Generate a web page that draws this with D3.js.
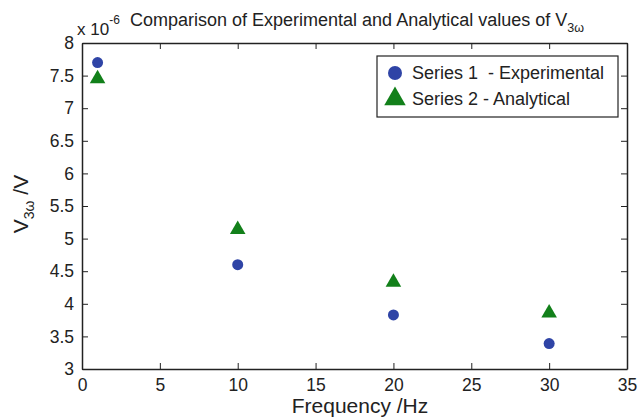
<!DOCTYPE html>
<html>
<head>
<meta charset="utf-8">
<script src="https://cdn.jsdelivr.net/npm/d3@7"></script>
<style>
  body { margin: 0; background: #fff; }
  svg { font-family: 'Liberation Sans', Arial, sans-serif; }
</style>
</head>
<body>
<div id="chart"></div>
<script>
const frequency = [1, 10, 20, 30];
const experimental = [7.7, 4.6, 3.83, 3.39];   // x 1e-6 V
const analytical = [7.45, 5.14, 4.33, 3.86];   // x 1e-6 V
const xTicks = [0, 5, 10, 15, 20, 25, 30, 35];
const yTicks = [3, 3.5, 4, 4.5, 5, 5.5, 6, 6.5, 7, 7.5, 8];
const seriesNames = ['Series 1  - Experimental', 'Series 2 - Analytical'];

const width = 638;
const height = 418;
const margin = { top: 43, right: 11, bottom: 49, left: 82 };
const innerW = width - margin.left - margin.right;
const innerH = height - margin.top - margin.bottom;

const blue = '#2f44a6';
const green = '#12801a';

const svg = d3.select('#chart').append('svg').attr('width', width).attr('height', height);
const g = svg.append('g').attr('transform', `translate(${margin.left},${margin.top})`);

const x = d3.scaleLinear().domain([0, 35]).range([0, innerW]);
const y = d3.scaleLinear().domain([3, 8]).range([innerH, 0]);

/* Axes (MATLAB style, inward ticks on all sides)
=========================================================================*/
const fmt = d3.format('');
const tick = 6;

const xAxis = g.append('g').attr('transform', `translate(0,${innerH})`)
  .call(d3.axisBottom(x).tickValues(xTicks).tickFormat(fmt).tickSizeInner(-tick).tickSizeOuter(0).tickPadding(10));
const xTop = g.append('g')
  .call(d3.axisTop(x).tickValues(xTicks).tickFormat('').tickSizeInner(-tick).tickSizeOuter(0));
const yAxis = g.append('g')
  .call(d3.axisLeft(y).tickValues(yTicks).tickFormat(fmt).tickSizeInner(-tick).tickSizeOuter(0).tickPadding(8));
const yRight = g.append('g').attr('transform', `translate(${innerW},0)`)
  .call(d3.axisRight(y).tickValues(yTicks).tickFormat('').tickSizeInner(-tick).tickSizeOuter(0));

[xAxis, xTop, yAxis, yRight].forEach(a => {
  a.select('.domain').attr('stroke', '#222').attr('stroke-width', 1.5);
  a.selectAll('.tick line').attr('stroke', '#222');
  a.selectAll('.tick text').attr('font-size', 17.5).attr('fill', '#222').attr('font-family', null);
});

/* Points
=========================================================================*/
g.selectAll('circle.exp')
  .data(frequency.map((f, i) => [f, experimental[i]]))
  .enter()
  .append('circle')
  .attr('class', 'exp')
  .attr('cx', d => x(d[0]))
  .attr('cy', d => y(d[1]))
  .attr('r', 5.5)
  .attr('fill', blue);

const tri = d3.symbol().type(d3.symbolTriangle).size(105);
g.selectAll('path.ana')
  .data(frequency.map((f, i) => [f, analytical[i]]))
  .enter()
  .append('path')
  .attr('class', 'ana')
  .attr('d', tri)
  .attr('transform', d => `translate(${x(d[0])},${y(d[1])})`)
  .attr('fill', green);

/* Legend
=========================================================================*/
const legend = svg.append('g').attr('transform', 'translate(377,56)');
legend.append('rect').attr('width', 241).attr('height', 61)
  .attr('fill', '#fff').attr('stroke', '#222').attr('stroke-width', 1.2);
legend.append('circle').attr('cx', 18).attr('cy', 17).attr('r', 7).attr('fill', blue);
legend.append('path').attr('d', d3.symbol().type(d3.symbolTriangle).size(200)())
  .attr('transform', 'translate(18,43)').attr('fill', green);
legend.selectAll('text.lg')
  .data(seriesNames)
  .enter()
  .append('text')
  .attr('class', 'lg')
  .attr('x', 35)
  .attr('y', (d, i) => 23 + i * 26)
  .attr('font-size', 18)
  .attr('fill', '#222')
  .attr('xml:space', 'preserve')
  .text(d => d);

/* Titles
=========================================================================*/
const title = svg.append('text').attr('x', 130).attr('y', 26).attr('font-size', 18).attr('fill', '#222');
title.append('tspan').text('Comparison of Experimental and Analytical values of V');
title.append('tspan').attr('font-size', 12.5).attr('dy', 6).text('3ω');

const exp = svg.append('text').attr('x', 77).attr('y', 35).attr('font-size', 17).attr('fill', '#222');
exp.append('tspan').text('x 10');
exp.append('tspan').attr('font-size', 12).attr('dy', -11).text('-6');

svg.append('text')
  .attr('x', 360)
  .attr('y', 413)
  .attr('text-anchor', 'middle')
  .attr('font-size', 21)
  .attr('fill', '#222')
  .text('Frequency /Hz');

const yl = svg.append('text')
  .attr('transform', `translate(28,${margin.top + innerH / 2 - 2}) rotate(-90)`)
  .attr('text-anchor', 'middle')
  .attr('font-size', 21)
  .attr('fill', '#222');
yl.append('tspan').text('V');
yl.append('tspan').attr('font-size', 14).attr('dy', 6).text('3ω');
yl.append('tspan').attr('dy', -6).text(' /V');
</script>
</body>
</html>
